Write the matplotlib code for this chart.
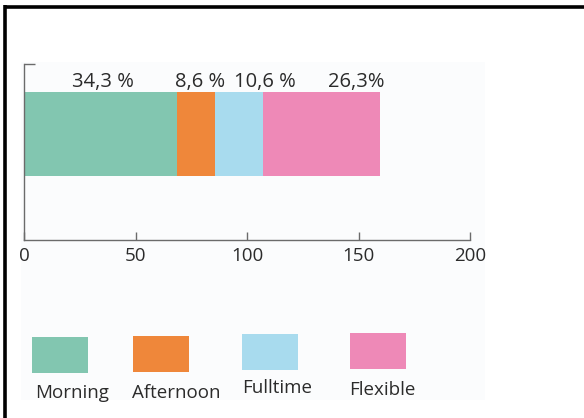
import numpy as np
import matplotlib
matplotlib.use('Agg')
import matplotlib.pyplot as plt
from matplotlib.patches import Rectangle
from matplotlib.lines import Line2D

plt.rcParams['font.family'] = ['Open Sans', 'DejaVu Sans']

# shift types and their shares (percent)
categories = ['Morning', 'Afternoon', 'Fulltime', 'Flexible']
shares = [34.3, 8.6, 10.6, 26.3]
share_labels = ['34,3 %', '8,6 %', '10,6 %', '26,3%']
colors = ['#82c6b0', '#ef873a', '#a8dbee', '#ee89b7']
x_ticks = [0, 50, 100, 150, 200]
x_total = 200

# bar lengths on the 0-200 axis
widths = np.array(shares) / 100 * x_total
lefts = np.concatenate([[0], np.cumsum(widths)[:-1]])

W, H = 584, 418
fig = plt.figure(figsize=(W / 100, H / 100), dpi=100)

# overlay in pixel coords for frame, backdrop and legend
ov = fig.add_axes([0, 0, 1, 1], zorder=0)
ov.set_xlim(0, W)
ov.set_ylim(H, 0)
ov.axis('off')
ov.add_patch(Rectangle((21, 62), 464, 338, facecolor='#fbfcfd', edgecolor='none'))
ov.add_line(Line2D([3.5, W], [6.5, 6.5], color='black', lw=2.6, solid_capstyle='butt'))
ov.add_line(Line2D([5, 5], [5, H], color='black', lw=2.6, solid_capstyle='butt'))

# main axes
ax = fig.add_axes([24 / W, (H - 240) / H, 446 / W, 176 / H], zorder=1)
ax.patch.set_alpha(0)
ax.barh(0.6035, widths, left=lefts, height=0.479, color=colors, edgecolor='none')

# share labels above the bar (nudged apart so the narrow ones don't collide)
label_x = [35.4, 79.1, 108.1, 148.9]
for lx, txt in zip(label_x, share_labels):
    ax.text(lx, 0.869, txt, ha='center', va='baseline', fontsize=14.5, color='#2b2b2b')

ax.set_xlim(0, x_total)
ax.set_ylim(0, 1)
ax.set_xticks(x_ticks)
ax.set_xticklabels([str(t) for t in x_ticks])
ax.set_yticks([1])
ax.set_yticklabels([''])
ax.tick_params(axis='x', direction='in', length=5.8, width=1, color='#6b6b6b',
               labelsize=13.5, labelcolor='#2b2b2b', pad=5)
ax.tick_params(axis='y', direction='in', length=7.9, width=1, color='#6b6b6b')
for side in ['top', 'right']:
    ax.spines[side].set_visible(False)
for side in ['left', 'bottom']:
    ax.spines[side].set_color('#6b6b6b')
    ax.spines[side].set_linewidth(1)

# legend: swatch above each name
box_xy = [(32.3, 336.7), (132.7, 335.7), (241.7, 334.3), (350, 333.3)]
text_xy = [(35, 398.3), (131.5, 398.3), (242.5, 393.3), (349, 395)]
for (bx, by), (tx, ty), c, name in zip(box_xy, text_xy, colors, categories):
    ov.add_patch(Rectangle((bx, by), 56, 36, facecolor=c, edgecolor='none'))
    ov.text(tx, ty, name, ha='left', va='baseline', fontsize=13.5, color='#2b2b2b')

fig.savefig('out.png', dpi=100, facecolor='white')
